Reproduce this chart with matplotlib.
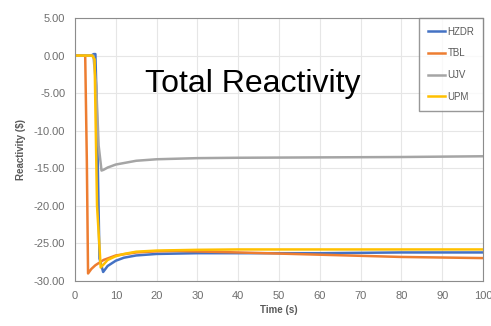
import matplotlib.pyplot as plt

plt.rcParams['font.family'] = ['Liberation Sans', 'DejaVu Sans']

# time (s) and reactivity ($)
hzdr_t = [0, 4.0, 4.6, 5.0, 5.3, 6.0, 6.9, 8, 10, 12, 15, 20, 30, 40, 60, 80, 100]
hzdr_r = [0, 0.0, 0.2, 0.2, -6.0, -27.0, -28.8, -28.0, -27.3, -26.9, -26.6, -26.4, -26.3, -26.3, -26.3, -26.2, -26.2]

tbl_t = [0, 2.5, 2.9, 3.2, 4, 5, 7, 10, 15, 20, 25, 40, 60, 80, 100]
tbl_r = [0, 0.0, -14.0, -29.0, -28.4, -27.9, -27.2, -26.6, -26.2, -26.05, -26.0, -26.2, -26.5, -26.8, -26.95]

ujv_t = [0, 4.5, 5.2, 5.8, 6.5, 7, 8, 10, 12, 15, 20, 30, 40, 60, 80, 100]
ujv_r = [0, 0.0, -4.0, -12.0, -15.3, -15.2, -14.9, -14.5, -14.3, -14.0, -13.8, -13.65, -13.6, -13.55, -13.5, -13.4]

upm_t = [0, 4.2, 4.8, 5.4, 6.3, 7, 8, 10, 12, 15, 20, 30, 40, 60, 80, 100]
upm_r = [0, 0.0, -0.5, -20.0, -28.2, -27.8, -27.2, -26.7, -26.4, -26.1, -25.95, -25.85, -25.8, -25.8, -25.8, -25.8]

fig = plt.figure(figsize=(4.91, 3.26), dpi=100)
ax = fig.add_axes([75/491, 1 - 281/326, 408/491, 263/326])

ax.plot(hzdr_t, hzdr_r, color='#4472C4', lw=1.8, label='HZDR')
ax.plot(tbl_t, tbl_r, color='#ED7D31', lw=1.8, label='TBL')
ax.plot(ujv_t, ujv_r, color='#A5A5A5', lw=1.8, label='UJV')
ax.plot(upm_t, upm_r, color='#FFC000', lw=1.8, label='UPM')

ax.set_xlim(0, 100)
ax.set_ylim(-30, 5)
ax.set_xticks(range(0, 101, 10))
ax.set_yticks(range(-30, 6, 5))
ax.set_yticklabels(['%.2f' % v for v in range(-30, 6, 5)])
ax.grid(color='#E6E6E6', lw=0.8)
ax.set_axisbelow(True)
for s in ax.spines.values():
    s.set_color('#8C8C8C')
ax.tick_params(length=0, labelsize=8, colors='#6E6E6E', pad=7)
ax.set_xlabel('Time (s)', fontsize=7, fontweight='bold', color='#595959', labelpad=3)
ax.set_ylabel('Reactivity ($)', fontsize=7, fontweight='bold', color='#595959', labelpad=6)

leg = ax.legend(loc='upper right', bbox_to_anchor=(1.0, 1.0), fontsize=7, frameon=True,
                fancybox=False, handlelength=1.8, handletextpad=0.2, labelspacing=1.2,
                borderpad=0.9, borderaxespad=0)
leg.get_frame().set_edgecolor('#7F7F7F')
leg.get_frame().set_linewidth(1.0)
for t in leg.get_texts():
    t.set_color('#595959')

ax.text(0.436, 0.75, 'Total Reactivity', transform=ax.transAxes, ha='center', va='center',
        fontsize=23, color='black')

fig.savefig('out.png', dpi=100)
